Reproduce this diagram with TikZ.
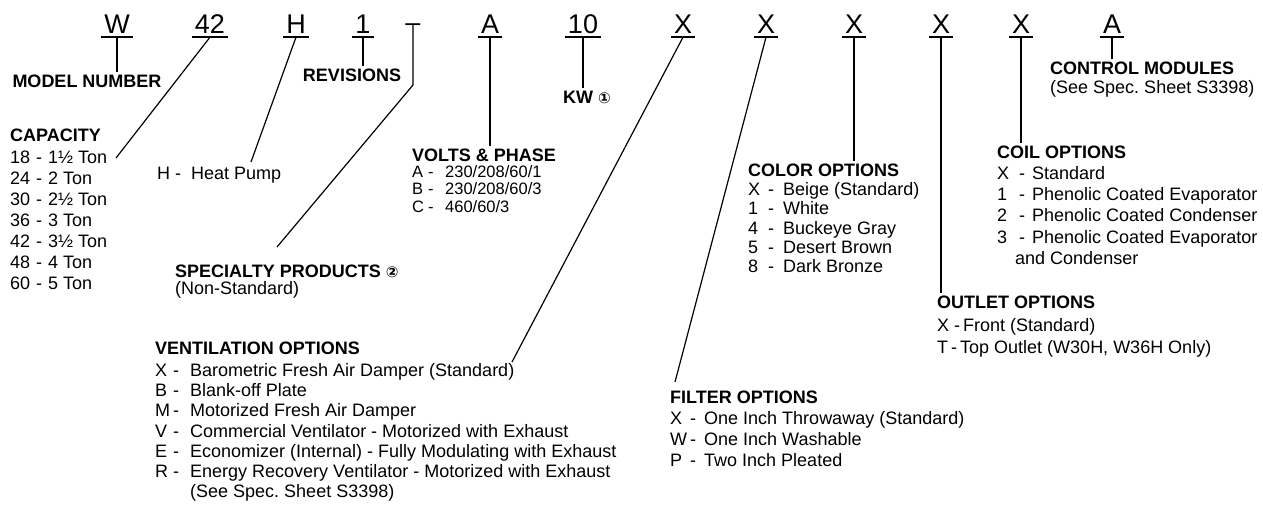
\documentclass[tikz,border=0pt]{standalone}
\usepackage{fontspec}
\setmainfont{Liberation Sans}
\newfontfamily\symfont{DejaVu Sans}
\newcommand{\cnum}[1]{{\symfont\fontsize{15}{15}\selectfont#1}}

\begin{document}
\frenchspacing
\begin{tikzpicture}[x=1pt, y=-1pt,
	every node/.style={inner sep=0pt, font=\fontsize{18}{21}\selectfont},
	code/.style={font=\fontsize{27}{27}\selectfont, anchor=base, inner xsep=3pt, inner ysep=3pt, text depth=0pt},
	head/.style={font=\fontsize{18}{21}\selectfont\bfseries, anchor=base west, inner ysep=3pt},
	opts/.style={anchor=base west},
	link/.style={line width=1.2pt},
	bar/.style={line width=1.8pt}]
	\useasboundingbox (0,0) rectangle (1263,510);

	\node[code] (w) at (117,34) {W};
	\node[code] (cap) at (210,34) {42};
	\node[code] (type) at (296,34) {H};
	\node[code] (rev) at (363,34) {1};
	\node[code] (spec) at (413,34) {\raisebox{2.5pt}{–}};
	\node[code] (volt) at (490,34) {A};
	\node[code] (kw) at (583,34) {10};
	\node[code] (vent) at (683,34) {X};
	\node[code] (filt) at (766,34) {X};
	\node[code] (color) at (854,34) {X};
	\node[code] (outl) at (941,34) {X};
	\node[code] (coil) at (1021,34) {X};
	\node[code] (ctrl) at (1112,34) {A};
	\draw[bar] (w.south west) -- (w.south east) (cap.south west) -- (cap.south east)
		(type.south west) -- (type.south east) (rev.south west) -- (rev.south east)
		(volt.south west) -- (volt.south east) (kw.south west) -- (kw.south east)
		(vent.south west) -- (vent.south east) (filt.south west) -- (filt.south east)
		(color.south west) -- (color.south east) (outl.south west) -- (outl.south east)
		(coil.south west) -- (coil.south east) (ctrl.south west) -- (ctrl.south east);

	\node[head, anchor=base] (model) at (87,87.5) {MODEL NUMBER};
	\node[head, anchor=base] (revs) at (352,81.5) {REVISIONS};
	\node[head] (kwlab) at (563,104) {KW \cnum{①}};
	\node[head] (ctrlhead) at (1050,74.5) {CONTROL MODULES};
	\node[opts] (ctrlnote) at (1050,93.5) {(See Spec. Sheet S3398)};

	\node[head] (caphead) at (10,141.5) {CAPACITY};
	\node[opts] (caplist) at (10,163.5) {\begin{tabular}[t]{@{}p{26pt}@{}p{12pt}@{}l@{}}
		18 & - & 1½ Ton\\ 24 & - & 2 Ton\\ 30 & - & 2½ Ton\\ 36 & - & 3 Ton\\
		42 & - & 3½ Ton\\ 48 & - & 4 Ton\\ 60 & - & 5 Ton
	\end{tabular}};
	\node[opts] (heatpump) at (157,179.5) {H -\ \ Heat Pump};

	\node[head] (volthead) at (412,161.5) {VOLTS \& PHASE};
	\node[opts, font=\fontsize{16.5}{17.5}\selectfont] (voltlist) at (412,177.5) {\begin{tabular}[t]{@{}p{16pt}@{}p{17pt}@{}l@{}}
		A & - & 230/208/60/1\\ B & - & 230/208/60/3\\ C & - & 460/60/3
	\end{tabular}};

	\node[head] (spechead) at (175,277.5) {SPECIALTY PRODUCTS \cnum{②}};
	\node[opts] (specnote) at (175,295) {(Non-Standard)};

	\node[head] (colorhead) at (748,176.5) {COLOR OPTIONS};
	\node[opts, font=\fontsize{18}{19.3}\selectfont] (colorlist) at (748,195.5) {\begin{tabular}[t]{@{}p{20pt}@{}p{15pt}@{}l@{}}
		X & - & Beige (Standard)\\ 1 & - & White\\ 4 & - & Buckeye Gray\\
		5 & - & Desert Brown\\ 8 & - & Dark Bronze
	\end{tabular}};

	\node[head] (coilhead) at (997,158.5) {COIL OPTIONS};
	\node[opts, font=\fontsize{18}{21.2}\selectfont] (coillist) at (997,179.5) {\begin{tabular}[t]{@{}p{22pt}@{}p{13pt}@{}l@{}}
		X & - & Standard\\ 1 & - & Phenolic Coated Evaporator\\
		2 & - & Phenolic Coated Condenser\\ 3 & - & Phenolic Coated Evaporator\\
		\multicolumn{3}{@{\hspace{18pt}}l@{}}{and Condenser}
	\end{tabular}};

	\node[head] (outlhead) at (937,308.5) {OUTLET OPTIONS};
	\node[opts, font=\fontsize{18}{22}\selectfont] (outllist) at (937,331.5) {\begin{tabular}[t]{@{}l@{}}
		X -\,Front (Standard)\\ T\,-\,Top Outlet (W30H, W36H Only)
	\end{tabular}};

	\node[head] (venthead) at (155,354.5) {VENTILATION OPTIONS};
	\node[opts, font=\fontsize{18}{20.2}\selectfont] (ventlist) at (155,376.5) {\begin{tabular}[t]{@{}p{18pt}@{}p{17pt}@{}l@{}}
		X & - & Barometric Fresh Air Damper (Standard)\\
		B & - & Blank-off Plate\\
		M & - & Motorized Fresh Air Damper\\
		V & - & Commercial Ventilator - Motorized with Exhaust\\
		E & - & Economizer (Internal) - Fully Modulating with Exhaust\\
		R & - & Energy Recovery Ventilator - Motorized with Exhaust\\
		  &   & (See Spec. Sheet S3398)
	\end{tabular}};

	\node[head] (filthead) at (670,403.5) {FILTER OPTIONS};
	\node[opts] (filtlist) at (670,424.5) {\begin{tabular}[t]{@{}p{20pt}@{}p{14pt}@{}l@{}}
		X & - & One Inch Throwaway (Standard)\\ W & - & One Inch Washable\\ P & - & Two Inch Pleated
	\end{tabular}};

	\coordinate (capend) at (116,158);
	\coordinate (typeend) at (251,162);
	\coordinate (specbend) at (413,85);
	\coordinate (specend) at (277,247);
	\coordinate (ventend) at (512,362);
	\coordinate (filtend) at (675,382);
	\draw[link] (w.south) -- (w.south |- model.north);
	\draw[link] (cap.south) -- (capend);
	\draw[link] (type.south) -- (typeend);
	\draw[link] (rev.south) -- (rev.south |- revs.north);
	\draw[link] ([yshift=9.5pt]spec.base) -- (specbend) -- (specend);
	\draw[link] (volt.south) -- (volt.south |- volthead.north);
	\draw[link] (kw.south) -- (kw.south |- kwlab.north);
	\draw[link] (vent.south) -- (ventend);
	\draw[link] (filt.south) -- (filtend);
	\draw[link] (color.south) -- (color.south |- colorhead.north);
	\draw[link] (outl.south) -- (outl.south |- outlhead.north);
	\draw[link] (coil.south) -- (coil.south |- coilhead.north);
	\draw[link] (ctrl.south) -- (ctrl.south |- ctrlhead.north);
\end{tikzpicture}
\end{document}
